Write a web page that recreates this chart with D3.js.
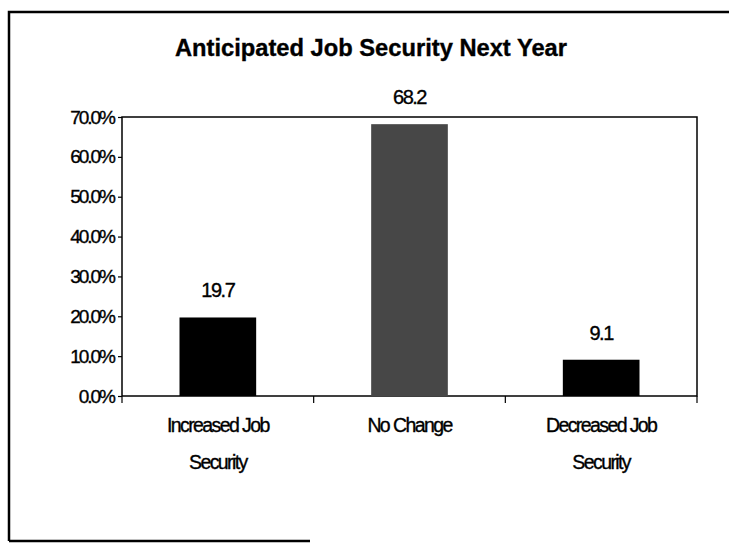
<!DOCTYPE html>
<html>
<head>
<meta charset="utf-8">
<script src="https://cdn.jsdelivr.net/npm/d3@7"></script>
<style>
  body { margin: 0; background: #fff; }
  svg text { font-family: "Liberation Sans", Arial, sans-serif; fill: #000; stroke: #000; stroke-width: 0.35; }
</style>
</head>
<body>
<svg id="chart" width="729" height="545"></svg>
<script>
/* chart data */
const categories = [["Increased Job", "Security"], ["No Change"], ["Decreased Job", "Security"]];
const values = [19.7, 68.2, 9.1];
const yTicks = [0, 10, 20, 30, 40, 50, 60, 70];
const barColors = ["#000", "#474747", "#000"];
const title = "Anticipated Job Security Next Year";

const svg = d3.select("#chart");
const plotLeft = 122, plotRight = 697, plotTop = 117, plotBottom = 396;

/* outer frame (scanned page border) */
svg.append("path")
    .attr("d", "M9,541 V12 H729")
    .attr("fill", "none")
    .attr("stroke", "#000")
    .attr("stroke-width", 2.5);
svg.append("line")
    .attr("x1", 9).attr("x2", 310)
    .attr("y1", 541).attr("y2", 541)
    .attr("stroke", "#000").attr("stroke-width", 2.5);

const x = d3.scaleBand()
    .domain(d3.range(values.length))
    .range([plotLeft, plotRight])
    .paddingInner(0.6)
    .paddingOuter(0.3);

const y = d3.scaleLinear()
    .domain([0, 70])
    .range([plotBottom, plotTop]);

/* plot frame */
svg.append("rect")
    .attr("x", plotLeft).attr("y", plotTop)
    .attr("width", plotRight - plotLeft).attr("height", plotBottom - plotTop)
    .attr("fill", "none")
    .attr("stroke", "#000")
    .attr("stroke-width", 1.5);

/* bars */
svg.selectAll(".bar")
    .data(values)
    .enter()
    .append("rect")
    .attr("class", "bar")
    .attr("x", (d, i) => x(i))
    .attr("y", d => y(d))
    .attr("width", x.bandwidth())
    .attr("height", d => y(0) - y(d))
    .attr("fill", (d, i) => barColors[i]);

/* value labels */
svg.selectAll(".value")
    .data(values)
    .enter()
    .append("text")
    .attr("class", "value")
    .attr("x", (d, i) => x(i) + x.bandwidth() / 2)
    .attr("y", d => y(d) - 20)
    .attr("text-anchor", "middle")
    .attr("font-size", 20)
    .attr("letter-spacing", -1.5)
    .text(d => d.toFixed(1));

/* y axis */
const yAxis = svg.append("g")
    .attr("transform", `translate(${plotLeft},0)`)
    .call(d3.axisLeft(y).tickValues(yTicks).tickSize(4).tickFormat(d => d.toFixed(1) + "%"));
yAxis.select(".domain").remove();
yAxis.selectAll("line").attr("stroke", "#000").attr("stroke-width", 1.2);
yAxis.selectAll("text")
    .attr("font-size", 19)
    .attr("letter-spacing", -2)
    .attr("x", -8)
    .attr("font-family", "Liberation Sans, Arial, sans-serif");

/* x axis category boundaries */
svg.selectAll(".xtick")
    .data(d3.range(values.length + 1))
    .enter()
    .append("line")
    .attr("class", "xtick")
    .attr("x1", i => plotLeft + i * x.step())
    .attr("x2", i => plotLeft + i * x.step())
    .attr("y1", plotBottom)
    .attr("y2", plotBottom + 7)
    .attr("stroke", "#000")
    .attr("stroke-width", 1.2);

/* category labels */
const catLabels = svg.selectAll(".cat")
    .data(categories)
    .enter()
    .append("text")
    .attr("class", "cat")
    .attr("text-anchor", "middle")
    .attr("font-size", 19.5)
    .attr("letter-spacing", -1.6)
    .attr("transform", (d, i) => `translate(${x(i) + x.bandwidth() / 2},432)`);
catLabels.selectAll("tspan")
    .data(d => d)
    .enter()
    .append("tspan")
    .attr("x", 0)
    .attr("y", (d, j) => j * 37)
    .text(d => d);

/* title */
svg.append("text")
    .attr("x", 371)
    .attr("y", 56)
    .attr("text-anchor", "middle")
    .attr("font-size", 23)
    .attr("font-weight", "bold")
    .attr("textLength", 392)
    .attr("lengthAdjust", "spacingAndGlyphs")
    .text(title);
</script>
</body>
</html>
